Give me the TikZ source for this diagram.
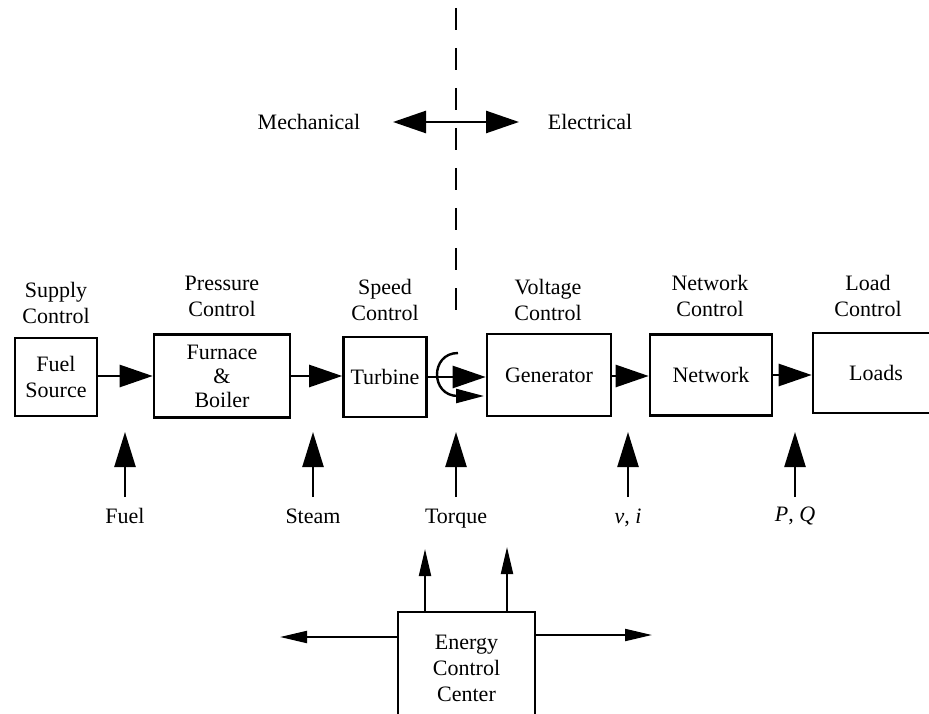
\documentclass[tikz,border=0pt]{standalone}
\usepackage{fontspec}
\setmainfont{Liberation Serif}
\usetikzlibrary{arrows.meta}
\begin{document}
\begin{tikzpicture}[x=1pt,y=-1pt,
  every node/.style={font=\fontsize{22}{26}\selectfont, align=center, inner sep=0pt},
  blk/.style={draw, line width=2.6pt, inner sep=0pt},
  bigarr/.style={line width=2.6pt, -{Triangle[length=33pt,width=22pt]}},
  dblarr/.style={line width=2.6pt, {Triangle[length=33pt,width=22pt]}-{Triangle[length=33pt,width=22pt]}},
  uparr/.style={line width=2.4pt, -{Triangle[length=35pt,width=21pt]}},
  rotarr/.style={line width=2.4pt, -{Triangle[length=28pt,width=14pt]}},
  smallarr/.style={line width=2pt, -{Triangle[length=27pt,width=12pt]}},
  divider/.style={line width=2.6pt, dash pattern=on 22pt off 18pt}
]
\useasboundingbox (0,0) rectangle (929,714);

% divider
\coordinate (dtop) at (456,8);
\coordinate (dbot) at (456,312);
\draw[divider] (dtop) -- (dbot);

% mechanical / electrical
\node (mech) at (309,122) {Mechanical};
\node (elec) at (590,122) {Electrical};
\coordinate (mlft) at (393,122);
\coordinate (erght) at (519,122);
\draw[dblarr] (mlft) -- (erght);

% control labels
\node (supplyc) at (56,303) {Supply\\Control};
\node (pressc) at (222,296) {Pressure\\Control};
\node (speedc) at (385,300) {Speed\\Control};
\node (voltc) at (548,300) {Voltage\\Control};
\node (netc) at (710,296) {Network\\Control};
\node (loadc) at (868,296) {Load\\Control};

% main boxes
\node[blk, minimum width=82pt, minimum height=78pt] (fuelsrc) at (56,377) {Fuel\\Source};
\node[blk, minimum width=136pt, minimum height=83pt, font=\fontsize{22}{24}\selectfont] (furnace) at (222,376) {Furnace\\\&\\Boiler};
\node[blk, minimum width=83pt, minimum height=80pt] (turbine) at (385,377) {Turbine};
\node[blk, minimum width=124pt, minimum height=82pt] (generator) at (549,375) {Generator};
\node[blk, minimum width=122pt, minimum height=81pt] (network) at (711,375) {Network};
\node[blk, minimum width=126pt, minimum height=80pt] (loads) at (876,373) {Loads};

% main arrows
\draw[bigarr] (fuelsrc.east |- 0,376) -- (furnace.west |- 0,376);
\draw[bigarr] (furnace.east |- 0,376) -- (turbine.west |- 0,376);
\draw[bigarr] (turbine.east |- 0,377) -- (generator.west |- 0,377);
\draw[bigarr] (generator.east |- 0,376) -- (network.west |- 0,376);
\draw[bigarr] (network.east |- 0,375) -- (loads.west |- 0,375);

% rotation symbol
\coordinate (rtop) at (458,353);
\coordinate (rbot) at (458,396);
\coordinate (rtip) at (484,396);
\draw[line width=2.4pt] (rtop) .. controls (430,353) and (430,396) .. (rbot);
\draw[rotarr] (rbot) -- (rtip);

% input arrows from below
\node[anchor=base] (fuellbl) at (125,523) {Fuel};
\node[anchor=base] (steamlbl) at (313,523) {Steam};
\node[anchor=base] (torquelbl) at (456,523) {Torque};
\node[anchor=base] (vilbl) at (628,523) {\textit{v}, \textit{i}};
\node[anchor=base] (pqlbl) at (795,521) {\textit{P}, \textit{Q}};
\foreach \n/\xx in {fuel/125, steam/313, torque/456, vi/628, pq/795}{
  \coordinate (\n tail) at (\xx,497);
  \coordinate (\n tip) at (\xx,432);
  \draw[uparr] (\n tail) -- (\n tip);
}

% energy control center
\node[blk, minimum width=137pt, minimum height=112pt] (ecc) at (466.5,668) {Energy\\Control\\Center};
\coordinate (ecctipa) at (425,549);
\coordinate (ecctipb) at (507,547);
\coordinate (ecctipl) at (280,637);
\coordinate (ecctipr) at (652,635);
\draw[smallarr] (ecc.north -| ecctipa) -- (ecctipa);
\draw[smallarr] (ecc.north -| ecctipb) -- (ecctipb);
\draw[smallarr] (ecc.west |- ecctipl) -- (ecctipl);
\draw[smallarr] (ecc.east |- ecctipr) -- (ecctipr);
\end{tikzpicture}
\end{document}
